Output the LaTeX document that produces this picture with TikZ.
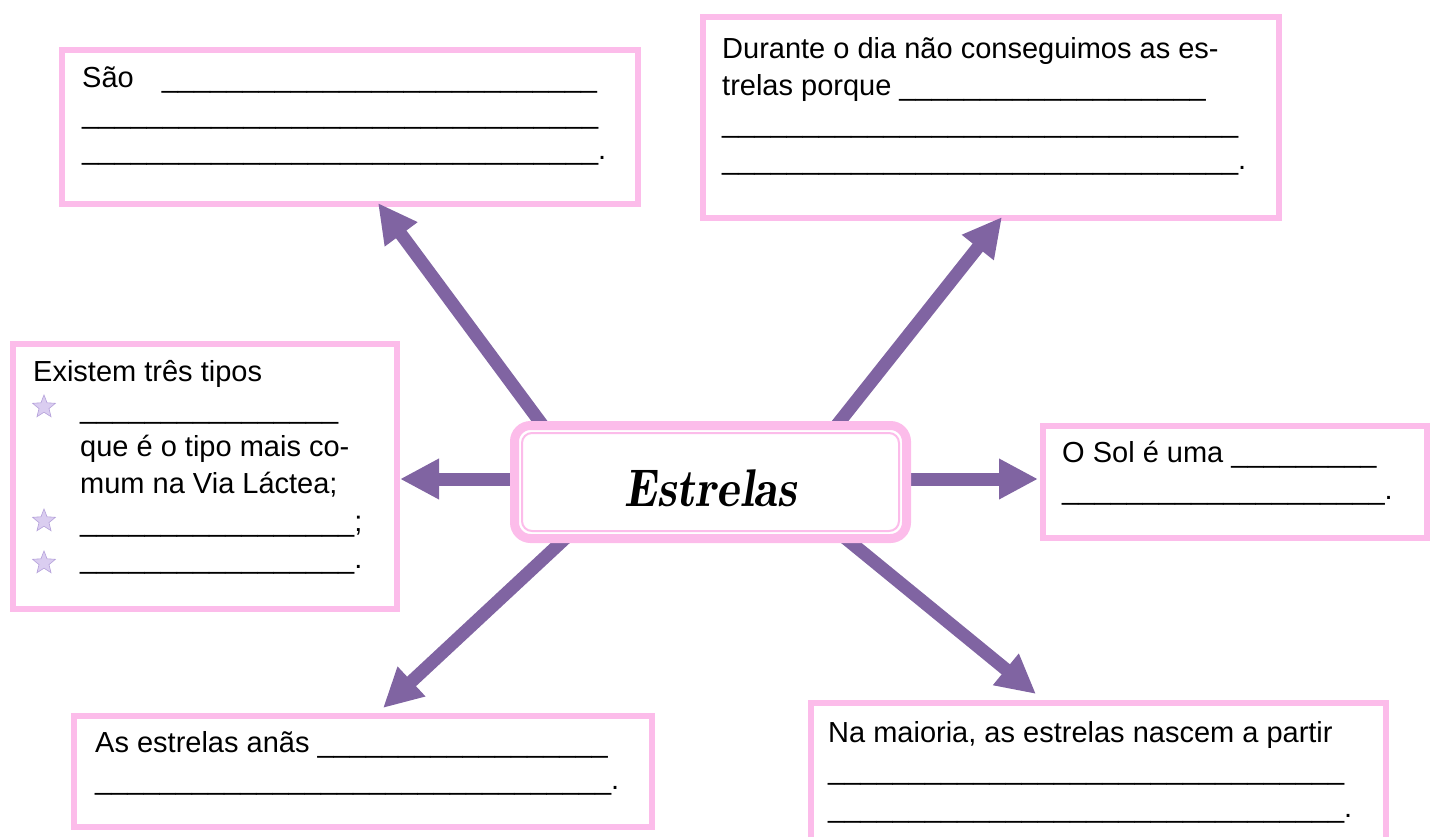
\documentclass[tikz,border=0pt]{standalone}
\usepackage{fontspec}
\setmainfont{Liberation Sans}
\usetikzlibrary{arrows.meta,shapes.geometric,patterns}
\definecolor{pinkb}{RGB}{252,188,234}
\definecolor{purp}{RGB}{128,100,162}
\definecolor{starc}{RGB}{218,205,240}
\definecolor{stard}{RGB}{180,160,218}
\newcommand\titlefnt{\fontencoding{TU}\fontfamily{lmr}\fontseries{b}\fontshape{it}\selectfont}
\newcommand\us[1]{\count255=#1 \loop\ifnum\count255>0 \_\advance\count255 -1 \repeat}
\begin{document}
\begin{tikzpicture}[x=1pt,y=-1pt,
  box/.style={draw=pinkb, line width=6pt, fill=white, inner sep=0pt, anchor=north west},
  txt/.style={anchor=base west, inner sep=0pt, font=\fontsize{29}{37}\selectfont},
  conn/.style={draw=purp, line width=13pt, -{Triangle[length=39pt,width=38pt]}},
  bullet/.style={star, star points=5, star point ratio=2.3, fill=starc, draw=stard, line width=0.6pt, minimum size=24pt, inner sep=0pt}]
\useasboundingbox (0,0) rectangle (1436,836);
% boxes
\node[box, minimum width=576pt, minimum height=154pt] (b1) at (59,47) {};
\node[box, minimum width=576pt, minimum height=201pt] (b2) at (700,14) {};
\node[box, minimum width=384pt, minimum height=265pt] (b3) at (10,341) {};
\node[box, minimum width=384pt, minimum height=112pt] (b4) at (1040,423) {};
\node[box, minimum width=578pt, minimum height=111pt] (b5) at (71,713) {};
\node[box, minimum width=575pt, minimum height=160pt] (b6) at (808,700) {};
% arrow end points
\coordinate (s1) at (549,434); \coordinate (t1) at (378,203);
\coordinate (s2) at (829,435); \coordinate (t2) at (1002,217);
\coordinate (s3) at (525,479); \coordinate (t3) at (400,479);
\coordinate (s4) at (900,479); \coordinate (t4) at (1038,479);
\coordinate (s5) at (571,533); \coordinate (t5) at (383,708);
\coordinate (s6) at (833,528); \coordinate (t6) at (1036,694);
\foreach \i in {1,...,6} {\draw[conn] (s\i) -- (t\i);}
% central box
\node[draw=pinkb, line width=9pt, rounded corners=16pt, fill=white, minimum width=392pt, minimum height=113pt, inner sep=0pt] (c) at (710.5,482) {};
\node[draw=pinkb, line width=2pt, rounded corners=10pt, minimum width=377pt, minimum height=98pt, inner sep=0pt] (ci) at (c.center) {};
\node[anchor=base, inner sep=0pt, font=\fontsize{53}{53}\titlefnt] (title) at (711,506) {\scalebox{0.93}[1]{Estrelas}};
% box 1
\node[txt] (l11) at (82,87) {São\hspace*{28pt}\us{27}};
\node[txt] (l12) at (82,123) {\us{32}};
\node[txt] (l13) at (82,159) {\us{32}.};
% box 2
\node[txt] (l21) at (722,58) {Durante o dia não conseguimos as es-};
\node[txt] (l22) at (722,95) {trelas porque \us{19}};
\node[txt] (l23) at (722,132) {\us{32}};
\node[txt] (l24) at (722,169) {\us{32}.};
% box 3
\node[txt] (l31) at (33,381) {Existem três tipos};
\node[bullet] (st1) at (44,407) {};
\node[txt] (l32) at (80,418) {\us{16}};
\node[txt] (l33) at (80,456) {que é o tipo mais co-};
\node[txt] (l34) at (80,493) {mum na Via Láctea;};
\node[bullet] (st2) at (44,521) {};
\node[txt] (l35) at (80,531) {\us{17};};
\node[bullet] (st3) at (44,563) {};
\node[txt] (l36) at (80,568) {\us{17}.};
% box 4
\node[txt] (l41) at (1062,462) {O Sol é uma \us{9}};
\node[txt] (l42) at (1062,499) {\us{20}.};
% box 5
\node[txt] (l51) at (95,752) {As estrelas anãs \us{18}};
\node[txt] (l52) at (95,789) {\us{32}.};
% box 6
\node[txt] (l61) at (828,742) {Na maioria, as estrelas nascem a partir};
\node[txt] (l62) at (828,779) {\us{32}};
\node[txt] (l63) at (828,817) {\us{32}.};
\end{tikzpicture}
\end{document}
